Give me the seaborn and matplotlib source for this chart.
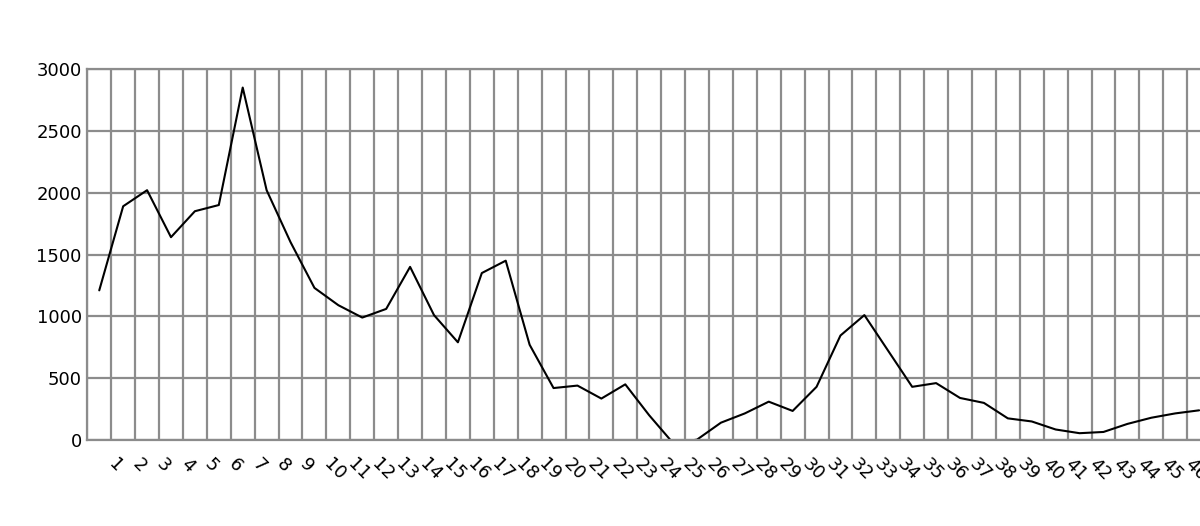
import matplotlib
matplotlib.use("Agg")
import matplotlib.pyplot as plt
import matplotlib.transforms as mtransforms
import matplotlib.ticker as mticker
import seaborn as sns

# ── Data ──────────────────────────────────────────────────────────────
weeks = list(range(1, 48))
values = [
    1210, 1890, 2020, 1640, 1850, 1900, 2850, 2020, 1600, 1230,
    1090, 990, 1060, 1400, 1010, 790, 1350, 1450, 770, 420,
    440, 335, 450, 200, -25, 3, 140, 215, 310, 235,
    430, 845, 1010, 720, 430, 460, 340, 300, 175, 150,
    85, 55, 65, 130, 180, 215, 240,
]
y_ticks = [0, 500, 1000, 1500, 2000, 2500, 3000]

GRID = "#8c8c8c"

sns.set_style("white")
plt.rcParams["font.family"] = ["DejaVu Sans"]

fig = plt.figure(figsize=(12, 5.26), dpi=100)
# axes runs off the right edge, as in the cropped reference
ax = fig.add_axes([87.3 / 1200, 86 / 526, 47 * 23.91 / 1200, 371 / 526])

sns.lineplot(x=weeks, y=values, ax=ax, color="black", linewidth=1.5)

ax.set_xlim(0.5, len(weeks) + 0.5)
ax.set_ylim(0, 3000)
ax.set_yticks(y_ticks)
ax.set_xticks(weeks)
ax.set_xticklabels([str(w) for w in weeks])
ax.xaxis.set_minor_locator(mticker.FixedLocator([w - 0.5 for w in weeks] + [len(weeks) + 0.5]))

ax.grid(False)
ax.grid(True, axis="y", which="major", color=GRID, linewidth=1.6)
ax.grid(True, axis="x", which="minor", color=GRID, linewidth=1.6)
ax.set_axisbelow(True)

for side in ["left", "bottom", "top"]:
    ax.spines[side].set_color(GRID)
    ax.spines[side].set_linewidth(1.6)
ax.spines["right"].set_visible(False)

ax.tick_params(axis="both", which="both", length=0)
ax.tick_params(axis="y", labelsize=13, pad=4, colors="black")
ax.tick_params(axis="x", labelsize=13, pad=11, colors="black")

offset = mtransforms.ScaledTranslation(6 / 100, 0, fig.dpi_scale_trans)
for lab in ax.get_xticklabels():
    lab.set_rotation(-45)
    lab.set_ha("left")
    lab.set_va("top")
    lab.set_transform(lab.get_transform() + offset)

ax.set_xlabel("")
ax.set_ylabel("")

fig.savefig("out.png", dpi=100, facecolor="white")
plt.close(fig)
